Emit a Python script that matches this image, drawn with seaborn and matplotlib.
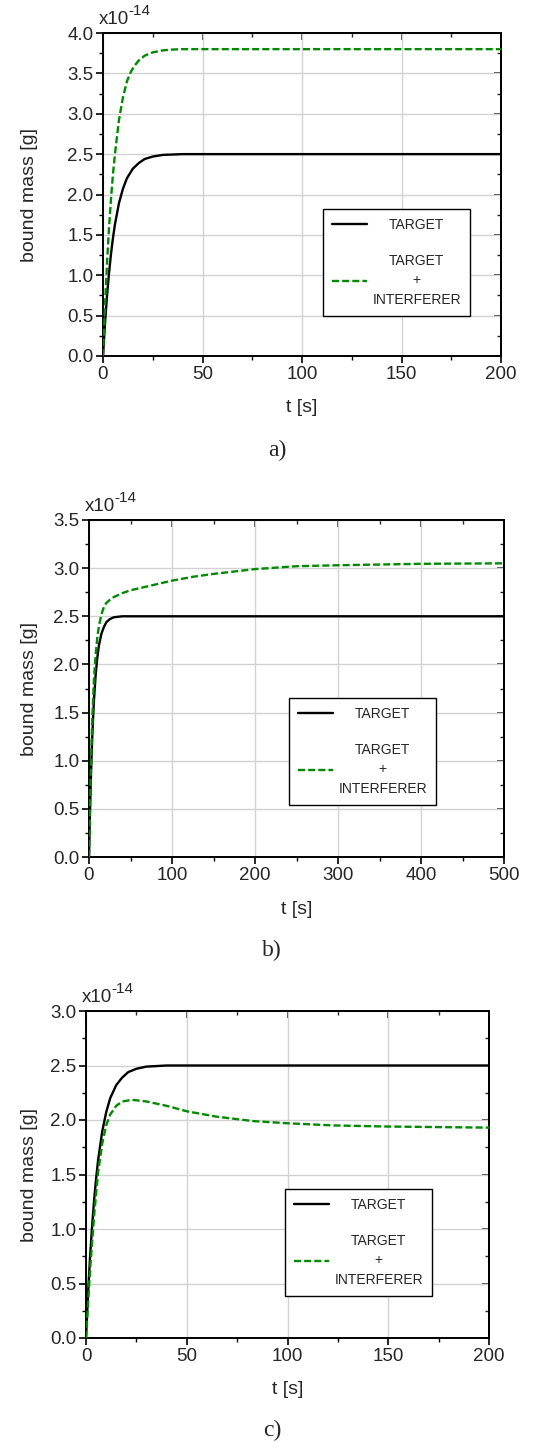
import numpy as np
import pandas as pd
import matplotlib
matplotlib.use("Agg")
import matplotlib.pyplot as plt
from matplotlib.ticker import MultipleLocator, FormatStrFormatter
import seaborn as sns

# ---------------- data (values in units of 1e-14 g) ----------------
# panel a
t_a_target = [0, 1, 2, 3, 4, 5, 6, 8, 10, 12, 15, 18, 21, 25, 30, 35, 40, 50, 200]
m_a_target = [0, 0.40, 0.74, 1.02, 1.26, 1.46, 1.63, 1.89, 2.07, 2.20, 2.32, 2.39, 2.44, 2.47, 2.49, 2.495, 2.50, 2.50, 2.50]
t_a_mix = [0, 1, 2, 3, 4, 5, 6, 8, 10, 12, 14, 16, 18, 21, 25, 30, 35, 40, 50, 200]
m_a_mix = [0, 0.62, 1.14, 1.58, 1.94, 2.25, 2.50, 2.92, 3.20, 3.40, 3.52, 3.60, 3.66, 3.72, 3.76, 3.785, 3.795, 3.80, 3.80, 3.80]

# panel b
t_b_target = [0, 1, 2, 3, 4, 5, 6, 8, 10, 12, 15, 18, 21, 25, 30, 35, 40, 50, 500]
m_b_target = [0, 0.40, 0.74, 1.02, 1.26, 1.46, 1.63, 1.89, 2.07, 2.20, 2.32, 2.39, 2.44, 2.47, 2.49, 2.495, 2.50, 2.50, 2.50]
t_b_mix = [0, 2, 4, 6, 8, 10, 12, 15, 18, 21, 25, 30, 40, 50, 60, 75, 100, 125, 150, 200, 250, 300, 400, 500]
m_b_mix = [0, 0.85, 1.45, 1.85, 2.10, 2.28, 2.40, 2.52, 2.60, 2.64, 2.67, 2.70, 2.74, 2.77, 2.79, 2.82, 2.87, 2.91, 2.94, 2.99, 3.02, 3.03, 3.045, 3.05]

# panel c
t_c_target = [0, 1, 2, 3, 4, 5, 6, 8, 10, 12, 15, 18, 21, 25, 30, 35, 40, 50, 200]
m_c_target = [0, 0.40, 0.74, 1.02, 1.26, 1.46, 1.63, 1.89, 2.07, 2.20, 2.32, 2.39, 2.44, 2.47, 2.49, 2.495, 2.50, 2.50, 2.50]
t_c_mix = [0, 2, 4, 6, 8, 10, 12, 15, 18, 23, 30, 40, 50, 65, 83, 100, 123, 150, 175, 200]
m_c_mix = [0, 0.62, 1.12, 1.52, 1.78, 1.95, 2.05, 2.13, 2.17, 2.185, 2.17, 2.13, 2.08, 2.03, 1.99, 1.97, 1.95, 1.94, 1.935, 1.93]

labels = ["TARGET", "TARGET\n+\nINTERFERER"]
panel_tags = ["a)", "b)", "c)"]
x_limits = [200, 500, 200]
y_limits = [4.0, 3.5, 3.0]
x_major = [50, 100, 50]

# ---------------- style ----------------
sns.set_theme(style="white")
plt.rcParams["font.family"] = ["Liberation Sans", "DejaVu Sans"]
plt.rcParams["axes.edgecolor"] = "black"

GREEN = "#008a00"

fig = plt.figure(figsize=(5.35, 14.43), dpi=100)
W, H = 535.0, 1443.0

# axes boxes in pixels: left, right, top, bottom
boxes = [(103, 501, 33, 356), (89, 504, 520, 857), (86, 489, 1011, 1338)]
legend_boxes = [(323, 209), (289, 698), (285, 1189)]  # upper-left corner px
xlabel_y = [408, 910, 1390]
tag_pos = [(277, 450), (272, 950), (272, 1430)]

datasets = [
    (t_a_target, m_a_target, t_a_mix, m_a_mix),
    (t_b_target, m_b_target, t_b_mix, m_b_mix),
    (t_c_target, m_c_target, t_c_mix, m_c_mix),
]

for i, (tt, mt, tm, mm) in enumerate(datasets):
    l, r, tp, bt = boxes[i]
    ax = fig.add_axes([l / W, (H - bt) / H, (r - l) / W, (bt - tp) / H])
    df_t = pd.DataFrame({"t": tt, "m": mt})
    df_m = pd.DataFrame({"t": tm, "m": mm})
    sns.lineplot(data=df_t, x="t", y="m", ax=ax, color="black", linewidth=1.7,
                 errorbar=None, label=labels[0], zorder=3)
    sns.lineplot(data=df_m, x="t", y="m", ax=ax, color=GREEN, linewidth=1.7,
                 linestyle=(0, (3.0, 1.3)), errorbar=None, label=labels[1], zorder=3)

    ax.set_xlim(0, x_limits[i])
    ax.set_ylim(0, y_limits[i])
    ax.xaxis.set_major_locator(MultipleLocator(x_major[i]))
    ax.xaxis.set_minor_locator(MultipleLocator(x_major[i] / 2))
    ax.yaxis.set_major_locator(MultipleLocator(0.5))
    ax.yaxis.set_minor_locator(MultipleLocator(0.25))
    ax.yaxis.set_major_formatter(FormatStrFormatter("%.1f"))
    ax.xaxis.set_major_formatter(FormatStrFormatter("%d"))
    ax.grid(True, which="major", color="#d2d2d2", linewidth=1.0)
    ax.set_axisbelow(True)
    for s in ax.spines.values():
        s.set_linewidth(1.4)
        s.set_color("black")
    ax.tick_params(which="both", direction="out", bottom=True, left=True,
                   top=False, right=False, labelsize=13.5, color="black", pad=2)
    ax.tick_params(which="major", length=5, width=1.2)
    ax.tick_params(which="minor", length=3, width=1.0)

    secx = ax.secondary_xaxis("top")
    secx.xaxis.set_major_locator(MultipleLocator(x_major[i]))
    secx.xaxis.set_minor_locator(MultipleLocator(x_major[i] / 2))
    secx.tick_params(which="both", direction="in", labeltop=False)
    secx.tick_params(which="major", length=5, width=1.2)
    secx.tick_params(which="minor", length=3, width=1.0)
    secy = ax.secondary_yaxis("right")
    secy.yaxis.set_major_locator(MultipleLocator(0.5))
    secy.yaxis.set_minor_locator(MultipleLocator(0.25))
    secy.tick_params(which="both", direction="in", labelright=False)
    secy.tick_params(which="major", length=5, width=1.2)
    secy.tick_params(which="minor", length=3, width=1.0)
    for sa in (secx, secy):
        for s in sa.spines.values():
            s.set_linewidth(1.4)

    ax.set_ylabel("bound mass [g]", fontsize=14)
    ax.set_xlabel("")
    ax.yaxis.set_label_coords((38 - l) / (r - l), 0.5)
    fig.text((l + r) / 2 / W, 1 - xlabel_y[i] / H, "t [s]", fontsize=14,
             ha="center", va="center")

    # scale-factor note: "x10" with a raised "-14"
    fig.text((l - 4) / W, 1 - (tp - 9) / H, "x10", fontsize=13.5,
             ha="left", va="baseline")
    fig.text((l + 25) / W, 1 - (tp - 18) / H, "-14", fontsize=11,
             ha="left", va="baseline")

    lx, ly = legend_boxes[i]
    leg = ax.legend(loc="upper left",
                    bbox_to_anchor=((lx - l) / (r - l), (bt - ly) / (bt - tp)),
                    fontsize=10, frameon=True, fancybox=False, framealpha=1,
                    edgecolor="black", handlelength=2.5, handletextpad=0.4,
                    borderpad=0.65, labelspacing=1.55, borderaxespad=0)
    leg.get_frame().set_linewidth(1.0)
    for tx in leg.get_texts():
        tx.set_multialignment("center")
        tx.set_linespacing(1.5)

    tx0, ty0 = tag_pos[i]
    fig.text(tx0 / W, 1 - ty0 / H, panel_tags[i], fontsize=17,
             family="Liberation Serif", ha="center", va="center")

# centre the single-line legend entry over the multi-line one
fig.canvas.draw()
renderer = fig.canvas.get_renderer()
for ax in fig.axes:
    leg = ax.get_legend()
    if leg is None:
        continue
    t0, t1 = leg.get_texts()
    w0 = t0.get_window_extent(renderer).width
    w1 = t1.get_window_extent(renderer).width
    t0.set_position(((w1 - w0) / 2, 0))

fig.savefig("out.png", dpi=100)
